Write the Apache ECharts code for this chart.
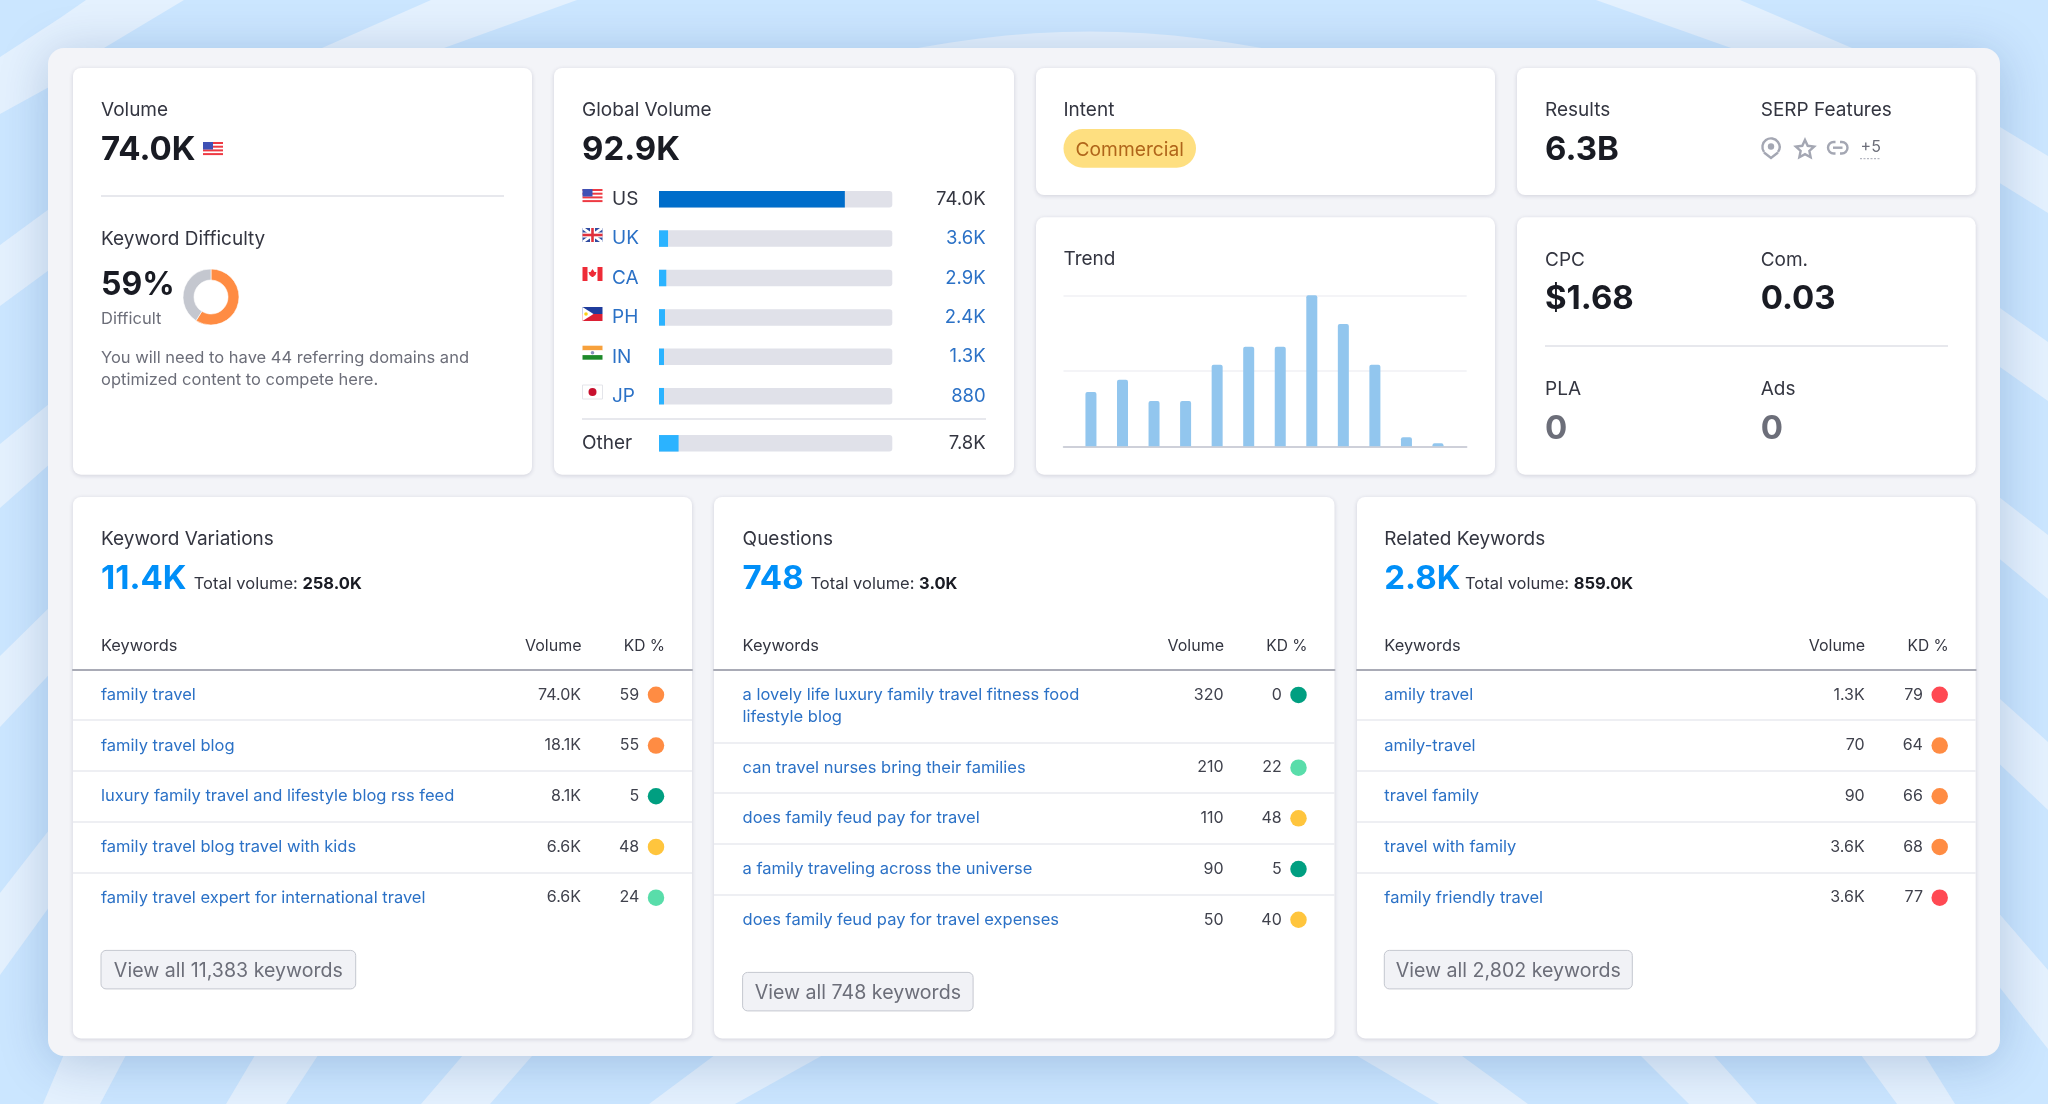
<!DOCTYPE html>
<html>
<head>
<meta charset="utf-8">
<title>Keyword Overview</title>
<script src="https://cdn.jsdelivr.net/npm/echarts@6/dist/echarts.min.js"></script>
<style>
  html, body { margin: 0; padding: 0; background: #cbe6ff; }
  #chart { width: 2048px; height: 1104px; }
</style>
</head>
<body>
<div id="chart"></div>
<script>
// global volume by country, in thousands
const countries = ['US', 'UK', 'CA', 'PH', 'IN', 'JP'];
const countryVolumes = [74.0, 3.6, 2.9, 2.4, 1.3, 0.88];
const countryVolumeLabels = ['74.0K', '3.6K', '2.9K', '2.4K', '1.3K', '880'];
const otherVolume = [7.8];
const otherVolumeLabels = ['7.8K'];
const globalVolume = 92.9;

// keyword difficulty donut
const difficulty = 59;

// trend, relative to the best month
const trendMonths = [1, 2, 3, 4, 5, 6, 7, 8, 9, 10, 11, 12];
const trendValues = [36, 44, 30, 30, 54, 66, 66, 100, 81, 54, 6, 2];

// keyword tables
const variationKeywords = ['family travel', 'family travel blog', 'luxury family travel and lifestyle blog rss feed', 'family travel blog travel with kids', 'family travel expert for international travel'];
const variationVolumes = ['74.0K', '18.1K', '8.1K', '6.6K', '6.6K'];
const variationKd = [59, 55, 5, 48, 24];

const questionKeywords = ['a lovely life luxury family travel fitness food\nlifestyle blog', 'can travel nurses bring their families', 'does family feud pay for travel', 'a family traveling across the universe', 'does family feud pay for travel expenses'];
const questionVolumes = ['320', '210', '110', '90', '50'];
const questionKd = [0, 22, 48, 5, 40];

const relatedKeywords = ['amily travel', 'amily-travel', 'travel family', 'travel with family', 'family friendly travel'];
const relatedVolumes = ['1.3K', '70', '90', '3.6K', '3.6K'];
const relatedKd = [79, 64, 66, 68, 77];

const FONT = 'Inter';
const DARK = '#191b23';
const LABEL = '#333540';
const GREY = '#6c6e79';
const LINK = '#2b71c6';
const LINE = '#dfe0e7';
const ICON = '#a4a7b3';

var chart = echarts.init(document.getElementById('chart'));

var graphics = [];
var grids = [];
var xAxes = [];
var yAxes = [];
var series = [];

function kdColor(kd) {
  if (kd < 15) return '#009f81';
  if (kd < 30) return '#59ddaa';
  if (kd < 50) return '#ffc53d';
  if (kd < 70) return '#ff8c43';
  return '#ff4953';
}

function text(x, y, str, size, color, weight, align, rich) {
  // Inter sits a little high when centred on the line box
  var nudge = size >= 30 ? 2.5 : size >= 18 ? 1.5 : 1;
  graphics.push({
    type: 'text', x: x, y: y + nudge, z: 5,
    style: {
      text: str, fill: color, fontSize: size, fontFamily: FONT, fontWeight: weight || 400,
      align: align || 'left', verticalAlign: 'middle', rich: rich
    }
  });
}

function rect(x, y, w, h, fill, r, z, extra) {
  graphics.push({
    type: 'rect', z: z === undefined ? 1 : z,
    shape: { x: x, y: y, width: w, height: h, r: r || 0 },
    style: Object.assign({ fill: fill }, extra || {})
  });
}

function hline(x1, x2, y, color, width) {
  graphics.push({
    type: 'line', z: 1,
    shape: { x1: x1, y1: y, x2: x2, y2: y },
    style: { stroke: color, lineWidth: width || 1.5 }
  });
}

function poly(points, fill, z) {
  graphics.push({ type: 'polygon', z: z === undefined ? 2 : z, shape: { points: points }, style: { fill: fill } });
}

function circle(cx, cy, r, fill) {
  graphics.push({ type: 'circle', z: 3, shape: { cx: cx, cy: cy, r: r }, style: { fill: fill } });
}

function card(x, y, w, h) {
  rect(x, y, w, h, '#ffffff', 8, -8, { shadowBlur: 4, shadowColor: 'rgba(25,27,70,0.16)', shadowOffsetY: 1 });
}

// background stripes
function drawBackground() {
  rect(0, 0, 2048, 1104, '#cbe6ff', 0, -20);
  var stripes = [
    [[86, 0], [184, 0], [104, 48], [60, 81], [0, 114], [0, 57], [60, 18]],
    [[431, 0], [577, 0], [444, 48], [322, 48]],
    [[1596, 0], [1740, 0], [1852, 48], [1731, 48]],
    [[0, 245], [60, 201], [60, 262], [0, 306]],
    [[0, 444], [60, 395], [60, 455], [0, 508]],
    [[0, 656], [60, 597], [60, 663], [0, 727]],
    [[0, 893], [60, 816], [60, 892], [0, 975]],
    [[1990, 121], [2048, 156], [2048, 213], [1990, 177]],
    [[1990, 301], [2048, 342], [2048, 401], [1990, 360]],
    [[1990, 490], [2048, 535], [2048, 599], [1990, 551]],
    [[1990, 690], [2048, 742], [2048, 810], [1990, 755]],
    [[1990, 903], [2048, 970], [2048, 1049], [1990, 975]],
    [[70, 1040], [134, 1040], [100, 1104], [43, 1104]],
    [[264, 1040], [328, 1040], [286, 1104], [226, 1104]],
    [[476, 1040], [546, 1040], [490, 1104], [421, 1104]],
    [[735, 1040], [850, 1040], [735, 1104], [649, 1104]],
    [[1330, 1040], [1440, 1040], [1528, 1104], [1439, 1104]],
    [[1625, 1040], [1700, 1040], [1757, 1104], [1689, 1104]],
    [[1850, 1040], [1915, 1040], [1955, 1104], [1897, 1104]]
  ];
  stripes.forEach(function (s) { poly(s, '#e4f1fe', -19); });
  graphics.push({
    type: 'bezierCurve', z: -19,
    shape: { x1: 862, y1: 60, cpx1: 1020, cpy1: 22, cpx2: 1160, cpy2: 22, x2: 1317, y2: 60 },
    style: { fill: '#e4f1fe', stroke: null }
  });
  rect(48, 48, 1952, 1008, '#f3f4f8', 16, -15, { shadowBlur: 50, shadowColor: 'rgba(0,50,120,0.22)', shadowOffsetY: 6 });
}

function flag(code, x, y) {
  var w = 20, h = 14, i;
  if (code === 'US') {
    rect(x, y, w, h, '#ffffff', 0, 2);
    for (i = 0; i < 4; i++) rect(x, y + i * 3.7, w, 2, '#ee3a43', 0, 2);
    rect(x, y, 10, 7.5, '#3f51b5', 0, 3);
  } else if (code === 'UK') {
    rect(x, y, w, h, '#2f4aa0', 0, 2);
    poly([[x, y], [x + 2.5, y], [x + w, y + h - 1.5], [x + w, y + h], [x + w - 2.5, y + h], [x, y + 1.5]], '#ffffff');
    poly([[x + w, y], [x + w - 2.5, y], [x, y + h - 1.5], [x, y + h], [x + 2.5, y + h], [x + w, y + 1.5]], '#ffffff');
    rect(x + 7.5, y, 5, h, '#ffffff', 0, 3);
    rect(x, y + 4.5, w, 5, '#ffffff', 0, 3);
    rect(x + 8.7, y, 2.6, h, '#e0303c', 0, 3);
    rect(x, y + 5.7, w, 2.6, '#e0303c', 0, 3);
  } else if (code === 'CA') {
    rect(x, y, w, h, '#ffffff', 0, 2);
    rect(x, y, 5, h, '#ee2b37', 0, 2);
    rect(x + 15, y, 5, h, '#ee2b37', 0, 2);
    poly([[x + 10, y + 2], [x + 12, y + 5], [x + 14, y + 5], [x + 13, y + 8], [x + 10.5, y + 10], [x + 9.5, y + 10], [x + 7, y + 8], [x + 6, y + 5], [x + 8, y + 5]], '#ee2b37');
  } else if (code === 'PH') {
    rect(x, y, w, 7, '#1f3c9c', 0, 2);
    rect(x, y + 7, w, 7, '#dc2034', 0, 2);
    poly([[x, y], [x + 11, y + 7], [x, y + 14]], '#ffffff');
    circle(x + 3.5, y + 7, 1.8, '#fcd116');
  } else if (code === 'IN') {
    rect(x, y, w, 4.7, '#f7a13c', 0, 2);
    rect(x, y + 4.7, w, 4.7, '#ffffff', 0, 2);
    rect(x, y + 9.4, w, 4.6, '#1e8a2a', 0, 2);
    circle(x + 10, y + 7, 1.8, '#8a93bd');
  } else {
    rect(x, y, w, h, '#ffffff', 0, 2, { stroke: '#e4e5ea', lineWidth: 1 });
    circle(x + 10, y + 7, 4, '#c8102e');
  }
}

function serpIcons() {
  // pin
  graphics.push({ type: 'arc', z: 3, shape: { cx: 1771, cy: 147, r: 8.6, startAngle: Math.PI * 0.8, endAngle: Math.PI * 0.2, clockwise: true }, style: { stroke: ICON, lineWidth: 2.4, fill: null } });
  graphics.push({ type: 'polyline', z: 3, shape: { points: [[1764, 152.5], [1771, 158], [1778, 152.5]] }, style: { stroke: ICON, lineWidth: 2.4, fill: null } });
  circle(1771, 146.5, 3.2, ICON);
  // star
  var pts = [];
  for (var i = 0; i < 10; i++) {
    var r = i % 2 ? 4.6 : 9.6;
    var a = -Math.PI / 2 + i * Math.PI / 5;
    pts.push([1805 + r * Math.cos(a), 149.5 + r * Math.sin(a)]);
  }
  graphics.push({ type: 'polygon', z: 3, shape: { points: pts }, style: { stroke: ICON, lineWidth: 2.4, fill: null } });
  // link
  rect(1828, 142, 19.5, 11.5, null, 5.7, 3, { stroke: ICON, lineWidth: 2.4 });
  rect(1835.5, 139.5, 4.5, 16, '#ffffff', 0, 4);
  graphics.push({ type: 'line', z: 5, shape: { x1: 1833, y1: 147.7, x2: 1842.5, y2: 147.7 }, style: { stroke: ICON, lineWidth: 2.4 } });
  // +5
  text(1870.7, 146.5, '+5', 16, GREY, 400, 'center');
  graphics.push({ type: 'line', z: 5, shape: { x1: 1860, y1: 158.7, x2: 1881, y2: 158.7 }, style: { stroke: ICON, lineWidth: 1, lineDash: [2, 1.5] } });
}

function addCountryBars() {
  var left = 659, width = 233.3;
  function block(top, height, labels, values, valueLabels, idx) {
    grids.push({ left: left, top: top, width: width, height: height });
    xAxes.push({ type: 'value', gridIndex: idx, min: 0, max: globalVolume, show: false });
    var labelColor = function (v) { return v === 'US' || v === 'Other' ? LABEL : LINK; };
    var valueColor = function (v) { return v === '74.0K' || v === '7.8K' ? LABEL : LINK; };
    var common = { type: 'category', gridIndex: idx, inverse: true, axisLine: { show: false }, axisTick: { show: false }, splitLine: { show: false } };
    yAxes.push(Object.assign({}, common, {
      data: labels, position: 'left',
      axisLabel: { interval: 0, margin: labels[0] === 'Other' ? 77 : 47, align: 'left', fontFamily: FONT, fontSize: 19, padding: [2, 0, 0, 0], color: labelColor }
    }));
    yAxes.push(Object.assign({}, common, {
      data: valueLabels, position: 'right',
      axisLabel: { interval: 0, margin: 93.4, align: 'right', fontFamily: FONT, fontSize: 18.5, padding: [2, 0, 0, 0], color: valueColor }
    }));
    series.push({
      type: 'bar', xAxisIndex: xAxes.length - 1, yAxisIndex: yAxes.length - 2,
      barWidth: 16.5, barMinHeight: 5, showBackground: true,
      backgroundStyle: { color: '#e0e1e9', borderRadius: [0, 3, 3, 0] },
      itemStyle: { color: function (p) { return p.name === 'US' ? '#006dca' : '#2bb3ff'; } },
      silent: true,
      data: values
    });
  }
  block(179.5, 236.4, countries, countryVolumes, countryVolumeLabels, grids.length);
  block(423.6, 39.4, ['Other'], otherVolume, otherVolumeLabels, grids.length);
}

function addTrend() {
  var idx = grids.length;
  grids.push({ left: 1063.5, top: 295.3, width: 403.2, height: 151 });
  xAxes.push({
    type: 'value', gridIndex: idx, min: 0.13, max: 12.91,
    axisLine: { show: true, onZero: false, lineStyle: { color: '#c1c4cf', width: 1.5 } },
    axisTick: { show: false }, axisLabel: { show: false }, splitLine: { show: false }
  });
  yAxes.push({
    type: 'value', gridIndex: idx, min: 0, max: 100, interval: 50,
    axisLine: { show: false }, axisTick: { show: false }, axisLabel: { show: false },
    splitLine: { lineStyle: { color: '#f0f1f5', width: 1.5 } }
  });
  series.push({
    type: 'bar', xAxisIndex: xAxes.length - 1, yAxisIndex: yAxes.length - 1, barWidth: 11, silent: true,
    itemStyle: { color: '#92c6ee', borderRadius: [2, 2, 0, 0] },
    data: trendMonths.map(function (m, i) { return [m, trendValues[i]]; })
  });
}

// one block of equally tall table rows, its own grid with a category axis
function addRows(left, right, textX, top, rowHeight, keywords, volumes, kds, opts) {
  var idx = grids.length;
  var w = right - left;
  grids.push({ left: left, top: top, width: w, height: rowHeight * keywords.length });
  xAxes.push({
    type: 'value', gridIndex: idx, min: 0, max: w, position: 'top',
    axisLine: { show: opts.header, onZero: false, lineStyle: { color: '#a9abb6', width: 2 } },
    axisTick: { show: false }, axisLabel: { show: false }, splitLine: { show: false }
  });
  yAxes.push({
    type: 'category', gridIndex: idx, inverse: true, data: keywords,
    axisLine: { show: false }, axisTick: { show: false },
    axisLabel: { inside: true, interval: 0, margin: textX - left, align: 'left', fontFamily: FONT, fontSize: 16.5, lineHeight: 22, color: LINK },
    splitLine: { show: true, showMinLine: false, showMaxLine: opts.closeLine, lineStyle: { color: '#e9eaef', width: 1.5 } }
  });
  var shift = opts.shift || 0;
  var rowLabel = { show: true, position: 'left', fontFamily: FONT, fontSize: 16, color: '#40424d' };
  series.push({
    type: 'scatter', xAxisIndex: xAxes.length - 1, yAxisIndex: yAxes.length - 1, silent: true,
    symbolSize: 1, itemStyle: { color: 'transparent', opacity: 1 }, symbolOffset: [0, shift],
    label: Object.assign({}, rowLabel, { distance: 0, formatter: function (p) { return p.data[2]; } }),
    data: keywords.map(function (k, i) { return [w - 110.5, i, volumes[i]]; })
  });
  series.push({
    type: 'scatter', xAxisIndex: xAxes.length - 1, yAxisIndex: yAxes.length - 1, silent: true,
    symbolSize: 16.5, symbolOffset: [0, shift],
    itemStyle: { opacity: 1, color: function (p) { return kdColor(p.data[2]); } },
    label: Object.assign({}, rowLabel, { distance: 8.5, formatter: function (p) { return p.data[2]; } }),
    data: keywords.map(function (k, i) { return [w - 36, i, kds[i]]; })
  });
}

function tableCard(left, right, textX, title, count, total, button, buttonW, buttonY, blockFn, totalX) {
  card(left, 497, right - left, 541.4);
  text(textX, 537.7, title, 19, LABEL);
  text(textX, 577, count, 33, '#008ff8', 700);
  text(totalX, 583, 'Total volume: {b|' + total + '}', 16.5, LABEL, 400, 'left', {
    b: { fontFamily: FONT, fontSize: 16.5, fontWeight: 700, fill: DARK }
  });
  text(textX, 645.4, 'Keywords', 16.4, LABEL);
  text(right - 110.5, 645.4, 'Volume', 16, LABEL, 400, 'right');
  text(right - 27, 645.4, 'KD %', 15.5, LABEL, 400, 'right');
  blockFn();
  rect(textX, buttonY, buttonW, 38.5, '#f1f2f6', 5, 1, { stroke: '#c4c7cf', lineWidth: 1 });
  text(textX + buttonW / 2, buttonY + 19, button, 19.6, GREY, 400, 'center');
}

function buildLayout() {
  drawBackground();

  // Volume + Keyword Difficulty
  card(73, 68, 459, 406.7);
  text(101, 109, 'Volume', 19, LABEL);
  text(101, 148, '74.0K', 33, DARK, 700);
  flag('US', 203, 142);
  hline(101, 504, 196, LINE);
  text(101, 238, 'Keyword Difficulty', 19, LABEL);
  text(101, 283, difficulty + '%', 32, DARK, 700);
  text(101, 318, 'Difficult', 16.5, GREY);
  text(101, 357, 'You will need to have 44 referring domains and', 16.5, GREY);
  text(101, 379, 'optimized content to compete here.', 16.5, GREY);

  // Global Volume
  card(554, 68, 460, 406.7);
  text(582, 109, 'Global Volume', 19, LABEL);
  text(582, 148, '92.9K', 33, DARK, 700);
  var flagY = [189, 228, 267, 307, 345.7, 385];
  countries.forEach(function (c, i) { flag(c, 582.5, flagY[i]); });
  hline(582, 986, 419, LINE);

  // Intent
  card(1036, 68, 459, 127);
  text(1063.5, 109, 'Intent', 19, LABEL);
  rect(1063.5, 129, 132.5, 38.7, '#fedf80', 19.3, 1);
  text(1129.7, 148.5, 'Commercial', 19.2, '#b0651a', 400, 'center');

  // Trend
  card(1036, 217.3, 459, 257.4);
  text(1063.5, 258, 'Trend', 19, LABEL);

  // Results + SERP
  card(1517, 68, 458.7, 127);
  text(1545, 109, 'Results', 19, LABEL);
  text(1545, 148, '6.3B', 33, DARK, 700);
  text(1760.7, 109, 'SERP Features', 19, LABEL);
  serpIcons();

  // CPC, Com., PLA, Ads
  card(1517, 217.3, 458.7, 257.4);
  text(1545, 258.7, 'CPC', 19, LABEL);
  text(1760.7, 258.7, 'Com.', 19, LABEL);
  text(1545, 297, '$1.68', 33, DARK, 700);
  text(1760.7, 297, '0.03', 33, DARK, 700);
  hline(1545, 1948, 346, LINE);
  text(1545, 388, 'PLA', 19, LABEL);
  text(1760.7, 388, 'Ads', 19, LABEL);
  text(1545, 426.7, '0', 33, GREY, 700);
  text(1760.7, 426.7, '0', 33, GREY, 700);

  addCountryBars();
  addTrend();

  tableCard(72.9, 692, 101, 'Keyword Variations', '11.4K', '258.0K', 'View all 11,383 keywords', 254.7, 950.4, function () {
    addRows(72.9, 692, 101, 669.5, 50.7, variationKeywords, variationVolumes, variationKd, { header: true, closeLine: false });
  }, 193.7);

  tableCard(714, 1334.5, 742.6, 'Questions', '748', '3.0K', 'View all 748 keywords', 230.5, 972.4, function () {
    addRows(714, 1334.5, 742.6, 669.5, 72.8, questionKeywords.slice(0, 1), questionVolumes.slice(0, 1), questionKd.slice(0, 1), { header: true, closeLine: true, shift: -11 });
    addRows(714, 1334.5, 742.6, 742.3, 50.7, questionKeywords.slice(1), questionVolumes.slice(1), questionKd.slice(1), { header: false, closeLine: false });
  }, 810.4);

  tableCard(1357, 1975.7, 1384.3, 'Related Keywords', '2.8K', '859.0K', 'View all 2,802 keywords', 248, 950.4, function () {
    addRows(1357, 1975.7, 1384.3, 669.5, 50.7, relatedKeywords, relatedVolumes, relatedKd, { header: true, closeLine: false });
  }, 1465);

  // difficulty donut
  series.push({
    type: 'pie', center: [211, 297], radius: [17, 28], startAngle: 90, silent: true,
    label: { show: false }, labelLine: { show: false },
    itemStyle: { borderColor: '#ffffff', borderWidth: 0.6 },
    data: [
      { value: difficulty, itemStyle: { color: '#ff8c43' } },
      { value: 100 - difficulty, itemStyle: { color: '#c4c7cf' } }
    ]
  });
}

buildLayout();

chart.setOption({
  animation: false,
  backgroundColor: '#cbe6ff',
  tooltip: { show: false },
  grid: grids,
  xAxis: xAxes,
  yAxis: yAxes,
  series: series,
  graphic: { elements: graphics }
});
</script>
</body>
</html>
